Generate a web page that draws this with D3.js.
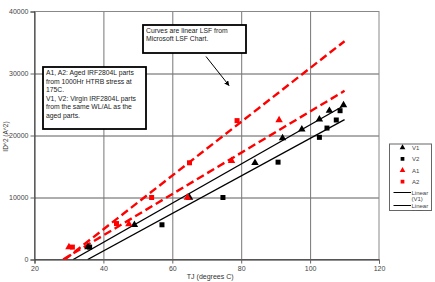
<!DOCTYPE html>
<html>
<head>
<meta charset="utf-8">
<script src="https://cdn.jsdelivr.net/npm/d3@7/dist/d3.min.js"></script>
<style>
body { margin: 0; background: #fff; }
text { font-family: "Liberation Sans", Arial, sans-serif; }
</style>
</head>
<body>
<svg width="435" height="282"></svg>
<script>
// series values
var v1X = [35.5, 49, 65, 84, 92, 97.6, 102.7, 105.6, 109.7];
var v1Y = [2000, 5600, 10000, 15600, 19600, 21000, 22600, 24000, 24900];
var v2X = [36, 57, 74.7, 90.7, 102.7, 104.9, 107.6, 108.7];
var v2Y = [2000, 5600, 10000, 15700, 19700, 21200, 22500, 24000];
var a1X = [30, 47.4, 64.4, 77.2, 91];
var a1Y = [2000, 5700, 10000, 15900, 22500];
var a2X = [31, 43.8, 54, 65, 78.8];
var a2Y = [2000, 5800, 10000, 15600, 22400];

var xTicks = [20, 40, 60, 80, 100, 120];
var yTicks = [0, 10000, 20000, 30000, 40000];
var trendEnd = 110;
var legendNames = ['V1', 'V2', 'A1', 'A2'];
var note1 = ['A1, A2:  Aged IRF2804L parts', 'from 1000Hr HTRB stress at', '175C.',
             'V1, V2:  Virgin IRF2804L parts', 'from the same WL/AL as the', 'aged parts.'];
var note2 = ['Curves are linear LSF from', 'Microsoft LSF Chart.'];

var svg = d3.select('svg');
var padding = {t: 11.5, l: 34.5, r: 56, b: 22.5};
var width = 435 - padding.l - padding.r;
var height = 282 - padding.t - padding.b;

var xScale = d3.scaleLinear().domain([20, 120]).range([0, width]);
var yScale = d3.scaleLinear().domain([0, 40000]).range([height, 0]);

var chartG = svg.append('g')
    .attr('transform', 'translate(' + [padding.l, padding.t] + ')');

var defs = svg.append('defs');
defs.append('clipPath').attr('id', 'plotClip')
    .append('rect').attr('width', width).attr('height', height);
defs.append('clipPath').attr('id', 'legendClip')
    .append('rect').attr('width', 42).attr('height', 66.5);
defs.append('marker')
    .attr('id', 'arrowHead')
    .attr('viewBox', '0 0 10 10').attr('refX', 9).attr('refY', 5)
    .attr('markerWidth', 5).attr('markerHeight', 5)
    .attr('orient', 'auto')
    .append('path').attr('d', 'M0,0L10,5L0,10Z').attr('fill', '#000');

// grid
chartG.append('g')
    .call(d3.axisLeft(yScale).tickValues(yTicks.slice(1, -1)).tickSize(-width).tickFormat(''))
    .call(function(g) { g.select('.domain').remove(); })
    .selectAll('line').attr('stroke', '#333').attr('stroke-width', 0.8);
chartG.append('g')
    .call(d3.axisBottom(xScale).tickValues(xTicks.slice(1, -1)).tickSize(height).tickSizeOuter(0).tickFormat(''))
    .call(function(g) { g.select('.domain').remove(); })
    .selectAll('line').attr('stroke', '#777').attr('stroke-width', 1);

chartG.append('rect')
    .attr('width', width).attr('height', height)
    .attr('fill', 'none').attr('stroke', '#888').attr('stroke-width', 1);

// axes
var yAxisG = chartG.append('g')
    .call(d3.axisLeft(yScale).tickValues(yTicks).tickSize(4).tickPadding(2).tickFormat(d3.format('d')));
var xAxisG = chartG.append('g')
    .attr('transform', 'translate(' + [0, height] + ')')
    .call(d3.axisBottom(xScale).tickValues(xTicks).tickSize(4).tickPadding(3));
[yAxisG, xAxisG].forEach(function(g) {
    g.select('.domain').attr('stroke', '#666');
    g.selectAll('.tick line').attr('stroke', '#666');
    g.selectAll('text').attr('fill', '#444').style('font-size', '7px');
});
yAxisG.select('.domain').attr('stroke', '#333');
xAxisG.select('.domain').attr('stroke', '#222');

chartG.append('text')
    .attr('transform', 'translate(' + [-27, 125] + ') rotate(-90)')
    .attr('text-anchor', 'middle')
    .style('font-size', '6.5px').attr('fill', '#333')
    .text('ID^2 (A^2)');
chartG.append('text')
    .attr('x', xScale(71)).attr('y', height + 19)
    .attr('text-anchor', 'middle')
    .style('font-size', '7px').attr('fill', '#333')
    .text('TJ (degrees C)');

// least squares fit, same as the excel trendline
function lsf(xs, ys) {
    var mx = d3.mean(xs), my = d3.mean(ys);
    var sxy = d3.sum(xs, function(x, i) { return (x - mx) * (ys[i] - my); });
    var sxx = d3.sum(xs, function(x) { return (x - mx) * (x - mx); });
    var m = sxy / sxx;
    return {m: m, b: my - m * mx};
}
function trendPts(xs, ys) {
    var f = lsf(xs, ys);
    var x0 = Math.max(20, -f.b / f.m);
    return [[x0, f.m * x0 + f.b], [trendEnd, f.m * trendEnd + f.b]];
}

var series = [
    {name: 'V1', xs: v1X, ys: v1Y, color: '#000', shape: d3.symbolTriangle, dash: null, lw: 1.3},
    {name: 'V2', xs: v2X, ys: v2Y, color: '#000', shape: d3.symbolSquare, dash: null, lw: 1.3},
    {name: 'A1', xs: a1X, ys: a1Y, color: '#f00', shape: d3.symbolTriangle, dash: '8,4', lw: 2.4},
    {name: 'A2', xs: a2X, ys: a2Y, color: '#f00', shape: d3.symbolSquare, dash: '8,4', lw: 2.4}
];

var plotG = chartG.append('g').attr('clip-path', 'url(#plotClip)');
var line = d3.line()
    .x(function(d) { return xScale(d[0]); })
    .y(function(d) { return yScale(d[1]); });

series.forEach(function(s) {
    plotG.append('path')
        .datum(trendPts(s.xs, s.ys))
        .attr('d', line)
        .attr('fill', 'none')
        .attr('stroke', s.color)
        .attr('stroke-width', s.lw)
        .attr('stroke-dasharray', s.dash);
});
series.forEach(function(s) {
    var sym = d3.symbol().type(s.shape).size(s.shape === d3.symbolSquare ? 25 : 24);
    chartG.selectAll('.pt' + s.name)
        .data(s.xs.map(function(x, i) { return [x, s.ys[i]]; }))
        .enter()
        .append('path')
        .attr('class', 'pt' + s.name)
        .attr('d', sym)
        .attr('fill', s.color)
        .attr('transform', function(d) {
            return 'translate(' + [xScale(d[0]), yScale(d[1])] + ')';
        });
});

// text boxes
function noteBox(x, y, w, h, lines, lh) {
    var g = svg.append('g').attr('transform', 'translate(' + [x, y] + ')');
    g.append('rect').attr('width', w).attr('height', h)
        .attr('fill', '#fff').attr('stroke', '#000').attr('stroke-width', 1.8);
    g.selectAll('text').data(lines).enter().append('text')
        .attr('x', 3).attr('y', function(d, i) { return 8 + i * lh; })
        .style('font-size', '6.8px').attr('fill', '#222')
        .text(function(d) { return d; });
}
noteBox(43, 67, 103, 62, note1, 8.6);
noteBox(143, 25, 103, 28, note2, 8.4);

svg.append('line')
    .attr('x1', 206).attr('y1', 56.5).attr('x2', 229).attr('y2', 85.5)
    .attr('stroke', '#000').attr('stroke-width', 1)
    .attr('marker-end', 'url(#arrowHead)');

// legend
var legendG = svg.append('g').attr('transform', 'translate(' + [389.5, 144] + ')');
legendG.append('rect').attr('width', 42).attr('height', 66.5)
    .attr('fill', '#fff').attr('stroke', '#666').attr('stroke-width', 1);
var legendInner = legendG.append('g').attr('clip-path', 'url(#legendClip)');
series.forEach(function(s, i) {
    var yy = 3.5 + i * 11.4;
    legendInner.append('path')
        .attr('d', d3.symbol().type(s.shape).size(14))
        .attr('fill', s.color)
        .attr('transform', 'translate(' + [13, yy] + ')');
    legendInner.append('text')
        .attr('x', 22.5).attr('y', yy + 2.3)
        .style('font-size', '6px').attr('fill', '#444')
        .text(s.name);
});
['V1', 'V2'].forEach(function(n, i) {
    var yy = 48.5 + i * 13;
    legendInner.append('line')
        .attr('x1', 4).attr('x2', 21.5).attr('y1', yy).attr('y2', yy)
        .attr('stroke', '#000').attr('stroke-width', 1.2);
    legendInner.append('text')
        .attr('x', 22).attr('y', yy + 2)
        .style('font-size', '6px').attr('fill', '#444')
        .text('Linear');
    legendInner.append('text')
        .attr('x', 22).attr('y', yy + 8.5)
        .style('font-size', '6px').attr('fill', '#444')
        .text('(' + n + ')');
});
</script>
</body>
</html>
